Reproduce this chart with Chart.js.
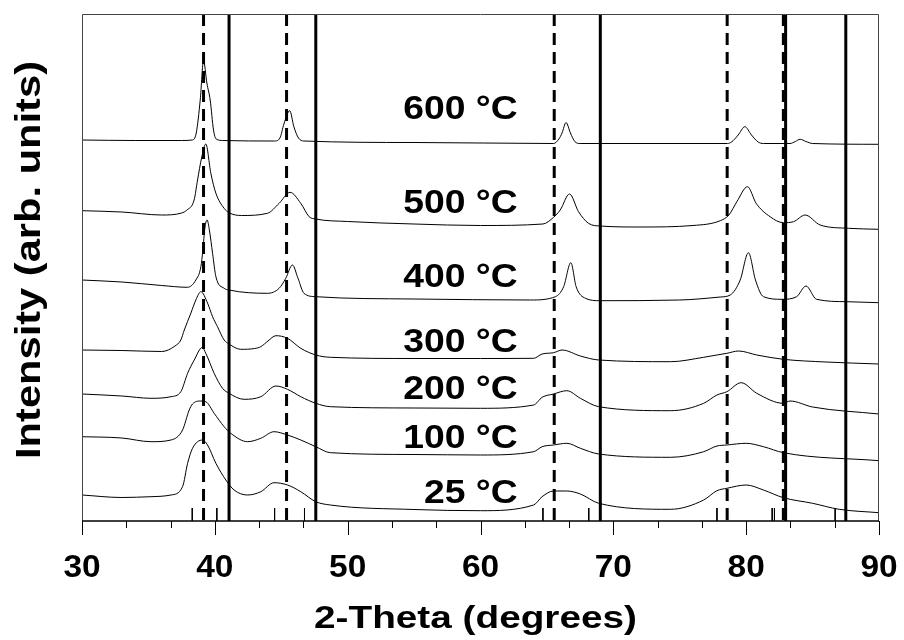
<!DOCTYPE html>
<html>
<head>
<meta charset="utf-8">
<title>XRD patterns</title>
<script src="https://cdn.jsdelivr.net/npm/chart.js@4.4.1/dist/chart.umd.min.js"></script>
<style>
  html, body { margin: 0; padding: 0; background: #fff; }
  #chart { display: block; }
</style>
</head>
<body>
<canvas id="chart" width="904" height="640"></canvas>
<script>
// traces, intensity in arbitrary units (offsets included)
const tt600 = [30, 34, 37.5, 38.3, 38.6, 38.9, 39.15, 39.4, 39.65, 39.9, 40.1, 40.6, 44.5, 44.9, 45.2, 45.64, 45.95, 46.3, 46.7, 55, 65.5, 65.9, 66.14, 66.44, 66.77, 67.1, 67.5, 78.6, 78.9, 79.4, 79.9, 80.4, 80.9, 81.3, 83.3, 83.7, 84.06, 84.5, 85.0, 90];
const i600 = [381, 380.5, 380.5, 381, 388, 421, 460.3, 438, 421, 391, 382, 380.5, 380, 383, 397, 410.3, 394.3, 383, 380, 378.5, 377.5, 382, 388, 398.5, 388, 379.5, 377.5, 377.5, 379, 386, 394.3, 386, 379, 377.5, 377.5, 379.5, 381.7, 379.5, 377.5, 376.7];

const tt500 = [30, 33, 36, 37.5, 37.9, 38.44, 38.7, 39.0, 39.32, 39.7, 40.08, 40.7, 41.07, 42, 43.96, 44.84, 45.66, 46.47, 47.1, 47.6, 50, 55, 60, 64.7, 65.5, 66.0, 66.7, 67.38, 68.13, 69, 72, 76, 78.05, 78.7, 79.3, 80.1, 80.75, 81.8, 82.8, 83.56, 84.44, 85.57, 87.7, 90];
const i500 = [310.3, 309, 306, 308, 311, 321, 341, 363, 377, 347.7, 327.7, 312.7, 308.3, 305.5, 307.7, 317.7, 328.7, 317.7, 304.3, 302, 299.5, 297, 295.5, 297, 303.7, 311, 327, 309.3, 297.7, 295, 294, 295.5, 300.3, 306, 319.3, 334.3, 317.7, 304.3, 298.3, 299.3, 306, 296, 292.7, 291.7];

const tt400 = [30, 33, 36, 37.95, 38.57, 38.95, 39.1, 39.25, 39.42, 39.6, 39.83, 40.08, 40.7, 41.07, 43.96, 44.84, 45.34, 45.84, 46.26, 46.71, 47.6, 55, 63.76, 65.64, 66.26, 66.8, 67.2, 67.9, 69, 75, 78.05, 78.8, 79.55, 80.17, 80.7, 81.3, 82.7, 83.8, 84.5, 85.3, 87.57, 90];
const i400 = [241, 239, 235.5, 233.7, 241, 254.3, 271, 293, 301, 290, 267.7, 244.3, 232.7, 231, 227.7, 232.7, 242.7, 256, 242.7, 227.7, 224.3, 222, 221, 224.3, 234.3, 258.3, 234.3, 222.7, 220.3, 221, 224, 226, 241, 268.3, 241, 224.3, 221.7, 224.3, 235, 221.7, 219.3, 218.3];

const tt300 = [30, 33, 36, 37.0, 37.44, 37.7, 38.2, 38.57, 38.95, 39.45, 39.83, 40.2, 40.7, 41.07, 41.95, 43.0, 43.46, 44.0, 44.6, 45.47, 46.47, 47.6, 48.7, 55, 60, 64.0, 64.64, 65.5, 66.14, 67.52, 68.9, 74.3, 76.8, 77.8, 78.55, 79.43, 80.8, 82.8, 86, 90];
const i300 = [171, 170.5, 169.5, 175, 181, 191, 208, 221, 229.3, 218, 204.3, 194.3, 181, 177, 171.7, 172.5, 174.3, 180, 185.3, 182.7, 172.7, 166, 163.7, 162.5, 162.5, 162.7, 167, 168.3, 171, 165, 161, 159.3, 163.7, 166, 167.7, 170, 166, 161.7, 159, 157];

const tt200 = [30, 33, 35.2, 36.7, 37.44, 37.95, 38.45, 39.05, 39.32, 39.95, 40.58, 41.07, 42.2, 43.46, 44.6, 45.47, 46.47, 47.6, 48.7, 55, 60, 64.0, 64.64, 65.5, 66.5, 67.52, 68.9, 74.3, 76.8, 77.8, 78.55, 79.62, 80.8, 82.8, 83.3, 85, 90];
const i200 = [127, 125, 122.7, 124.3, 129.3, 147.7, 161, 173.5, 167.7, 147.7, 132.7, 127.7, 121.7, 124.3, 135, 131.7, 124.3, 117.7, 114.3, 113, 112.7, 116, 123.7, 127, 130.3, 122.7, 114.3, 110.3, 117.7, 126, 129.3, 138.3, 127.7, 117.7, 120, 114, 107];

const tt100 = [30, 33, 35.2, 36.7, 37.57, 38.07, 38.32, 38.95, 39.32, 39.95, 40.7, 41.2, 42.46, 43.46, 44.46, 45.47, 46.47, 47.6, 48.7, 55, 60, 64.0, 64.64, 65.5, 66.5, 67.52, 68.9, 74.3, 76.8, 77.8, 78.55, 80.0, 81.3, 82.8, 90];
const i100 = [84.3, 83, 79.3, 81, 91, 111, 117, 120, 119.3, 107.7, 94.3, 87.7, 79.3, 82.7, 89.3, 86, 81, 74.3, 68.3, 66.5, 66, 69.3, 74.3, 76, 77.7, 72.7, 67, 63.7, 69.3, 75, 76, 77.7, 74.3, 68.3, 60.3];

const tt25 = [30, 33, 35.2, 36.7, 37.57, 37.95, 38.32, 39.08, 39.45, 40.08, 40.83, 41.45, 42.46, 43.46, 44.46, 45.47, 46.47, 47.6, 48.7, 55, 60, 64.0, 64.64, 65.5, 66.5, 67.52, 68.9, 74.3, 76.8, 77.8, 78.55, 80.0, 81.3, 82.8, 85, 87, 90];
const i25 = [26, 23.5, 24.3, 26, 34.3, 57.7, 72.7, 81, 76, 57.7, 41, 31, 26, 29.3, 38.3, 36, 29.3, 19.3, 16, 11.5, 10.3, 16, 24.3, 30, 30, 27, 17.7, 11.7, 21, 30.3, 32.7, 36, 31, 23.3, 17.7, 11.7, 8.3];

// reference positions
const dashedRefs = [39.15, 45.4, 65.55, 78.57, 82.8];
const solidRefs = [41.07, 47.6, 69.02, 82.97, 87.5];
const stickRefs = [38.3, 40.15, 44.5, 46.75, 64.7, 68.15, 77.8, 81.96, 82.13, 86.7];
const stickHeight = 13;

const tempLabels = ['600 °C', '500 °C', '400 °C', '300 °C', '200 °C', '100 °C', '25 °C'];
const tempLabelY = [401.7, 308.3, 233.7, 169.3, 121.7, 73.3, 17.7];
const tempLabelX = 62.8;

const xMajorTicks = [30, 40, 50, 60, 70, 80, 90];
const yMin = 0, yMax = 507;

const traces = [
  [tt600, i600], [tt500, i500], [tt400, i400], [tt300, i300],
  [tt200, i200], [tt100, i100], [tt25, i25]
];

function pairs(xs, ys) {
  return xs.map((x, i) => ({ x: x, y: ys[i] }));
}

function vLines(list, y0, y1) {
  const pts = [];
  list.forEach(p => {
    pts.push({ x: p, y: y1 });
    pts.push({ x: p, y: y0 });
    pts.push({ x: p, y: null });
  });
  return pts;
}

const FONT = "'Liberation Sans', Arial, Helvetica, sans-serif";

function stretchText(ctx, text, x, y, sx, align) {
  ctx.save();
  ctx.translate(x, y);
  ctx.scale(sx, 1);
  ctx.textAlign = align;
  ctx.textBaseline = 'alphabetic';
  ctx.fillText(text, 0, 0);
  ctx.restore();
}

// frame, ticks and all the texts
const decor = {
  id: 'decor',
  afterDraw(chart) {
    const ctx = chart.ctx;
    const a = chart.chartArea;
    const xs = chart.scales.x;
    const ys = chart.scales.y;

    ctx.save();
    // frame (left, top, right)
    ctx.strokeStyle = '#444';
    ctx.lineWidth = 1;
    ctx.beginPath();
    ctx.moveTo(a.left + 0.5, a.bottom);
    ctx.lineTo(a.left + 0.5, a.top + 0.5);
    ctx.lineTo(a.right - 0.5, a.top + 0.5);
    ctx.lineTo(a.right - 0.5, a.bottom);
    ctx.stroke();

    // bottom axis
    ctx.strokeStyle = '#000';
    ctx.lineWidth = 1.5;
    ctx.beginPath();
    ctx.moveTo(a.left, a.bottom);
    ctx.lineTo(a.right, a.bottom);
    ctx.stroke();

    // major + minor ticks (minor every 10/3 deg)
    ctx.lineWidth = 1;
    ctx.beginPath();
    xMajorTicks.forEach((v, i) => {
      const px = Math.round(xs.getPixelForValue(v)) + 0.5;
      ctx.moveTo(px, a.bottom);
      ctx.lineTo(px, a.bottom + 14);
      if (i < xMajorTicks.length - 1) {
        [1, 2].forEach(k => {
          const mx = Math.round(xs.getPixelForValue(v + k * 10 / 3)) + 0.5;
          ctx.moveTo(mx, a.bottom);
          ctx.lineTo(mx, a.bottom + 7);
        });
      }
    });
    ctx.stroke();

    ctx.fillStyle = '#000';
    // tick labels
    ctx.font = 'bold 31px ' + FONT;
    xMajorTicks.forEach(v => {
      stretchText(ctx, String(v), xs.getPixelForValue(v), 577, 1.08, 'center');
    });

    // x title
    ctx.font = 'bold 31px ' + FONT;
    stretchText(ctx, '2-Theta (degrees)', (a.left + a.right) / 2 - 5, 628, 1.25, 'center');

    // y title
    ctx.save();
    ctx.translate(40, 260);
    ctx.rotate(-Math.PI / 2);
    ctx.font = 'bold 35px ' + FONT;
    stretchText(ctx, 'Intensity (arb. units)', 0, 0, 1.19, 'center');
    ctx.restore();

    // temperature labels
    ctx.font = 'bold 33px ' + FONT;
    tempLabels.forEach((t, i) => {
      stretchText(ctx, t, xs.getPixelForValue(tempLabelX), ys.getPixelForValue(tempLabelY[i]), 1.13, 'right');
    });
    ctx.restore();
  }
};

const datasets = [];
datasets.push({
  label: 'dashed refs',
  data: vLines(dashedRefs, yMin, yMax),
  borderColor: '#000',
  borderWidth: 3,
  borderDash: [12, 7],
  pointRadius: 0,
  spanGaps: false,
  tension: 0
});
datasets.push({
  label: 'solid refs',
  data: vLines(solidRefs, yMin, yMax),
  borderColor: '#000',
  borderWidth: 3,
  pointRadius: 0,
  spanGaps: false,
  tension: 0
});
datasets.push({
  label: 'sticks',
  data: vLines(stickRefs, yMin, stickHeight),
  borderColor: '#000',
  borderWidth: 1,
  pointRadius: 0,
  spanGaps: false,
  tension: 0
});
traces.forEach((t, idx) => {
  datasets.push({
    label: tempLabels[idx],
    data: pairs(t[0], t[1]),
    borderColor: '#000',
    borderWidth: 1,
    pointRadius: 0,
    cubicInterpolationMode: 'monotone',
    fill: false
  });
});

const chart = new Chart(document.getElementById('chart').getContext('2d'), {
  type: 'line',
  data: { datasets },
  options: {
    responsive: false,
    animation: false,
    devicePixelRatio: 1,
    layout: { padding: { left: 82, top: 14, right: 25, bottom: 119 } },
    plugins: { legend: { display: false }, tooltip: { enabled: false } },
    scales: {
      x: { type: 'linear', min: 30, max: 90, display: false },
      y: { type: 'linear', min: yMin, max: yMax, display: false }
    }
  },
  plugins: [decor]
});
</script>
</body>
</html>
